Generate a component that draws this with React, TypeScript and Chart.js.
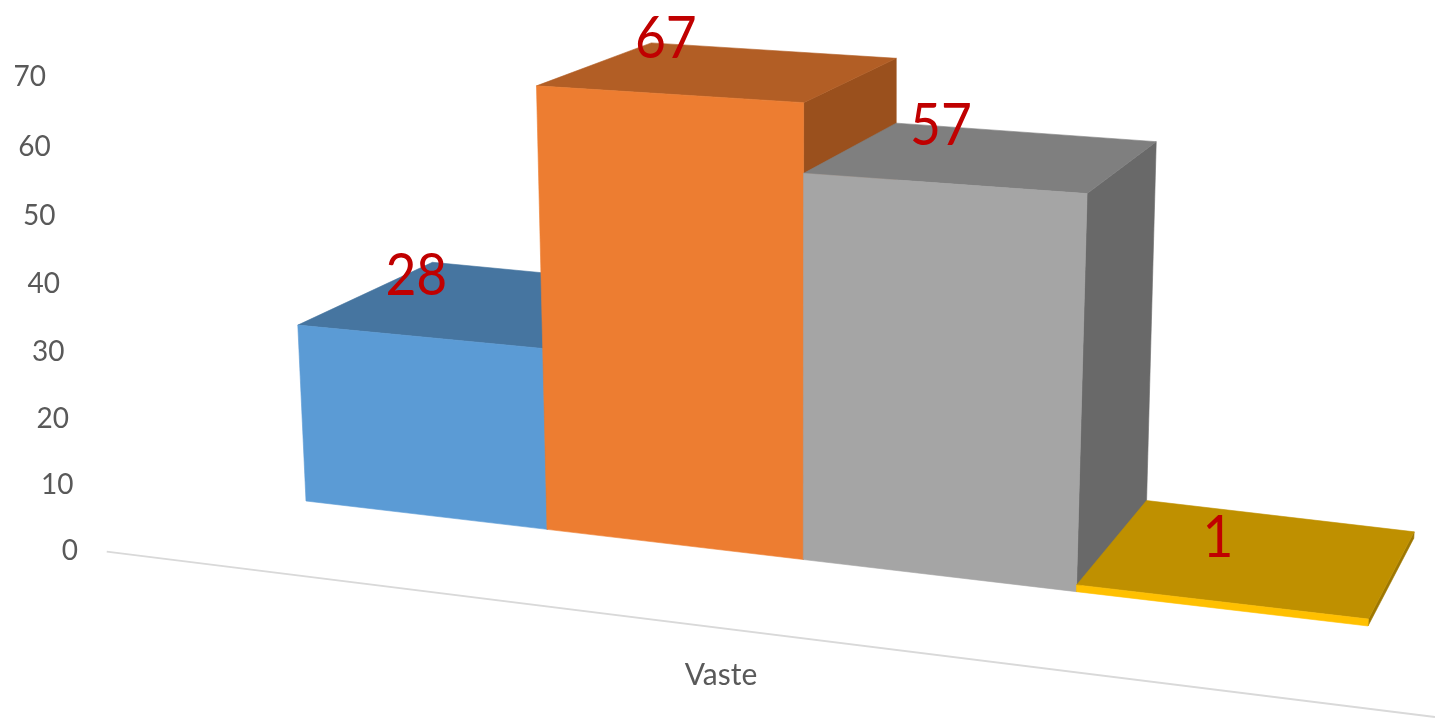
import React, { useEffect, useRef } from "react";
import { Chart, registerables } from "chart.js";

Chart.register(...registerables);

const categories = ["Vaste"];
const seriesNames = ["Serie 1", "Serie 2", "Serie 3", "Serie 4"];
const seriesValues = [28, 67, 57, 1];
const tickValues = [0, 10, 20, 30, 40, 50, 60, 70];
const frontColors = ["#5B9BD5", "#ED7D31", "#A5A5A5", "#FFC000"];
const topColors = ["#4675A0", "#B25E25", "#7F7F7F", "#BF9000"];
const sideColors = ["#3A6185", "#9A501D", "#696969", "#9E7700"];

type Pt = [number, number];

// Projective map of the unit square onto the front plane of the bars.
function unitSquareTo(p00: Pt, p10: Pt, p11: Pt, p01: Pt) {
  const dx1 = p10[0] - p11[0], dx2 = p01[0] - p11[0], sx = p00[0] - p10[0] + p11[0] - p01[0];
  const dy1 = p10[1] - p11[1], dy2 = p01[1] - p11[1], sy = p00[1] - p10[1] + p11[1] - p01[1];
  const d = dx1 * dy2 - dx2 * dy1;
  const g = (sx * dy2 - dx2 * sy) / d;
  const h = (dx1 * sy - sx * dy1) / d;
  const a = p10[0] - p00[0] + g * p10[0], b = p01[0] - p00[0] + h * p01[0], c = p00[0];
  const e = p10[1] - p00[1] + g * p10[1], f = p01[1] - p00[1] + h * p01[1], i = p00[1];
  return (s: number, t: number): Pt => {
    const w = g * s + h * t + 1;
    return [(a * s + b * t + c) / w, (e * s + f * t + i) / w];
  };
}

const frontPlane = unitSquareTo([306, 501], [1368, 626], [1396, 117], [285, 50]);
const vanishing: Pt = [1920, -432];
const depth = 0.083;
const recede = (p: Pt, k = depth): Pt => [p[0] + k * (vanishing[0] - p[0]), p[1] + k * (vanishing[1] - p[1])];

function face(ctx: CanvasRenderingContext2D, pts: Pt[], color: string) {
  ctx.beginPath();
  pts.forEach((p, i) => (i ? ctx.lineTo(p[0], p[1]) : ctx.moveTo(p[0], p[1])));
  ctx.closePath();
  ctx.fillStyle = color;
  ctx.fill();
  ctx.strokeStyle = color;
  ctx.lineWidth = 0.6;
  ctx.stroke();
}

const prismPlugin = {
  id: "prisms",
  beforeDatasetsDraw(chart: any) {
    const { ctx, chartArea: area } = chart;
    const yScale = chart.scales.y;
    const toPlane = (px: number, py: number) =>
      frontPlane((px - area.left) / (area.right - area.left), (area.bottom - py) / (area.bottom - area.top));

    // floor edge in front of the bars
    ctx.save();
    ctx.strokeStyle = "#D9D9D9";
    ctx.lineWidth = 1.8;
    ctx.beginPath();
    ctx.moveTo(...recede(toPlane(area.left - 135, area.bottom), -0.066));
    ctx.lineTo(1435, 717);
    ctx.stroke();

    // value axis, running along the slanted front corner
    ctx.font = "28px Lato";
    ctx.fillStyle = "#595959";
    ctx.textAlign = "right";
    ctx.textBaseline = "middle";
    const k = 0.964;
    for (const v of tickValues) {
      const t = (area.bottom - yScale.getPixelForValue(v)) / (area.bottom - area.top);
      const q = (t * k) / (1 + (k - 1) * t);
      ctx.fillText(String(v), 78 - 32 * q, 551 - 474 * q);
    }

    // category label
    ctx.font = "30px Lato";
    ctx.textAlign = "center";
    ctx.fillText(categories[0], 721, 675);

    // bars, left to right so each one covers the hidden part of its neighbour
    const bars: Array<{ top: Pt; v: number }> = [];
    chart.data.datasets.forEach((ds: any, i: number) => {
      const el = chart.getDatasetMeta(i).data[0];
      const l = el.x - el.width / 2, r = el.x + el.width / 2;
      const bl = toPlane(l, el.base), br = toPlane(r, el.base);
      const tl = toPlane(l, el.y), tr = toPlane(r, el.y);
      face(ctx, [tr, recede(tr), recede(br), br], sideColors[i]);
      face(ctx, [tl, tr, recede(tr), recede(tl)], topColors[i]);
      face(ctx, [bl, br, tr, tl], frontColors[i]);
      bars.push({ top: toPlane(el.x, el.y), v: ds.data[0] });
    });

    // value labels float above the middle of each front top edge
    ctx.font = "58px Lato";
    ctx.fillStyle = "#C00000";
    ctx.textBaseline = "middle";
    for (const b of bars) {
      ctx.save();
      ctx.translate(b.top[0] - 2, b.top[1] - 64 + b.v * 0.13);
      ctx.scale(0.92, 1);
      ctx.fillText(String(b.v), 0, 0);
      ctx.restore();
    }
    ctx.restore();
    return false;
  },
};

export default function App() {
  const ref = useRef<HTMLCanvasElement>(null);
  useEffect(() => {
    const chart = new Chart(ref.current!, {
      type: "bar",
      data: {
        labels: categories,
        datasets: seriesValues.map((v, i) => ({
          label: seriesNames[i],
          data: [v],
          backgroundColor: frontColors[i],
          barPercentage: 1,
          categoryPercentage: 1,
        })),
      },
      options: {
        responsive: false,
        animation: false,
        layout: { padding: 0 },
        plugins: { legend: { display: false }, tooltip: { enabled: false } },
        scales: {
          x: { display: false },
          y: { display: false, min: 0, max: 70, ticks: { stepSize: 10 } },
        },
      },
      plugins: [prismPlugin],
    });
    return () => chart.destroy();
  }, []);
  return (
    <div style={{ position: "absolute", left: 0, top: 0, width: 1435, height: 719 }}>
      <canvas ref={ref} width={1435} height={719} style={{ display: "block" }} />
    </div>
  );
}
